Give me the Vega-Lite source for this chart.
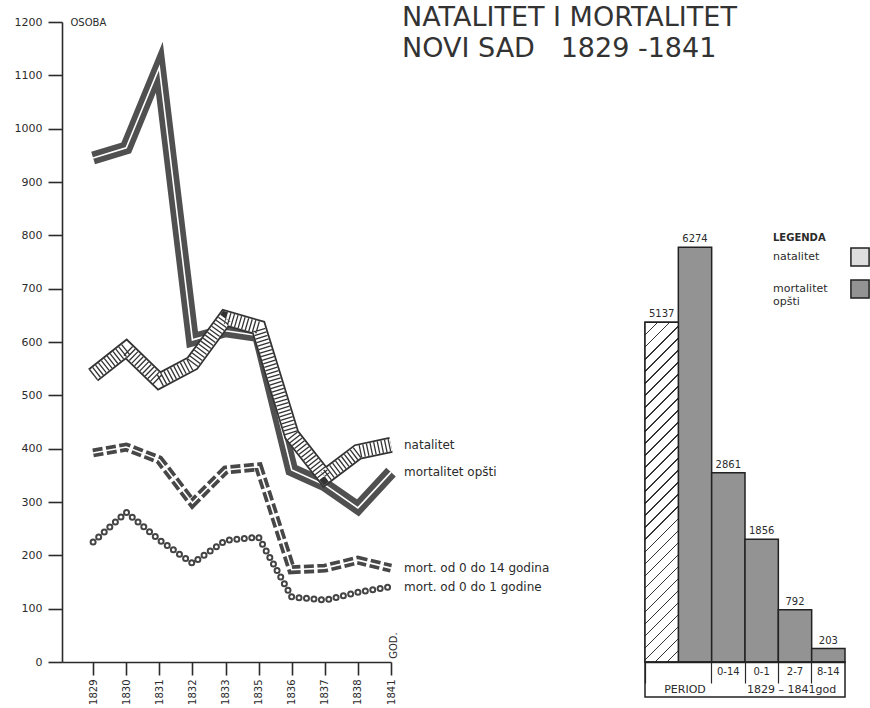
{
  "$schema": "https://vega.github.io/schema/vega-lite/v6.json",
  "width": 808,
  "height": 640,
  "autosize": {"type": "none"},
  "padding": {"left": 62, "top": 22, "right": 0, "bottom": 46},
  "background": "white",
  "config": {
    "view": {"stroke": null},
    "font": "DejaVu Sans",
    "axis": {"labelColor": "#2b2b2b", "domainColor": "#2b2b2b", "tickColor": "#2b2b2b", "titleColor": "#2b2b2b", "labelFont": "DejaVu Sans", "titleFont": "DejaVu Sans", "grid": false, "domainWidth": 1.6, "tickWidth": 1.6},
    "text": {"color": "#2b2b2b", "font": "DejaVu Sans"}
  },
  "title": {
    "text": "NATALITET I MORTALITET",
    "subtitle": "NOVI SAD\u00a0\u00a0\u00a01829 -1841",
    "anchor": "start",
    "frame": "group",
    "dx": 340,
    "dy": 16,
    "offset": -45,
    "baseline": "top",
    "font": "DejaVu Sans",
    "fontSize": 27,
    "fontWeight": "normal",
    "color": "#333333",
    "subtitleFont": "DejaVu Sans",
    "subtitleFontSize": 27,
    "subtitleFontWeight": "normal",
    "subtitleColor": "#333333",
    "subtitlePadding": 4
  },
  "datasets": {
    "lines": [
      {"series": "natalitet", "year": "1829", "value": 538},
      {"series": "natalitet", "year": "1830", "value": 587},
      {"series": "natalitet", "year": "1831", "value": 527},
      {"series": "natalitet", "year": "1832", "value": 560},
      {"series": "natalitet", "year": "1833", "value": 645},
      {"series": "natalitet", "year": "1835", "value": 627},
      {"series": "natalitet", "year": "1836", "value": 426},
      {"series": "natalitet", "year": "1837", "value": 347},
      {"series": "natalitet", "year": "1838", "value": 394},
      {"series": "natalitet", "year": "1841", "value": 407},
      {"series": "mortalitet opšti", "year": "1829", "value": 945},
      {"series": "mortalitet opšti", "year": "1830", "value": 964},
      {"series": "mortalitet opšti", "year": "1831", "value": 1115},
      {"series": "mortalitet opšti", "year": "1832", "value": 604},
      {"series": "mortalitet opšti", "year": "1833", "value": 621},
      {"series": "mortalitet opšti", "year": "1835", "value": 612},
      {"series": "mortalitet opšti", "year": "1836", "value": 360},
      {"series": "mortalitet opšti", "year": "1837", "value": 332},
      {"series": "mortalitet opšti", "year": "1838", "value": 289},
      {"series": "mortalitet opšti", "year": "1841", "value": 356},
      {"series": "mort. od 0 do 14 godina", "year": "1829", "value": 392},
      {"series": "mort. od 0 do 14 godina", "year": "1830", "value": 403},
      {"series": "mort. od 0 do 14 godina", "year": "1831", "value": 379},
      {"series": "mort. od 0 do 14 godina", "year": "1832", "value": 298},
      {"series": "mort. od 0 do 14 godina", "year": "1833", "value": 360},
      {"series": "mort. od 0 do 14 godina", "year": "1835", "value": 366},
      {"series": "mort. od 0 do 14 godina", "year": "1836", "value": 173},
      {"series": "mort. od 0 do 14 godina", "year": "1837", "value": 176},
      {"series": "mort. od 0 do 14 godina", "year": "1838", "value": 191},
      {"series": "mort. od 0 do 14 godina", "year": "1841", "value": 176},
      {"series": "mort. od 0 do 1 godine", "year": "1829", "value": 225},
      {"series": "mort. od 0 do 1 godine", "year": "1830", "value": 281},
      {"series": "mort. od 0 do 1 godine", "year": "1831", "value": 229},
      {"series": "mort. od 0 do 1 godine", "year": "1832", "value": 185},
      {"series": "mort. od 0 do 1 godine", "year": "1833", "value": 228},
      {"series": "mort. od 0 do 1 godine", "year": "1835", "value": 234},
      {"series": "mort. od 0 do 1 godine", "year": "1836", "value": 122},
      {"series": "mort. od 0 do 1 godine", "year": "1837", "value": 116},
      {"series": "mort. od 0 do 1 godine", "year": "1838", "value": 131},
      {"series": "mort. od 0 do 1 godine", "year": "1841", "value": 141}
    ],
    "bars": [
      {"cat": "natalitet", "kind": "natalitet", "value": 5137},
      {"cat": "mortalitet opšti", "kind": "mortalitet opšti", "value": 6274},
      {"cat": "0-14", "kind": "mortalitet opšti", "value": 2861},
      {"cat": "0-1", "kind": "mortalitet opšti", "value": 1856},
      {"cat": "2-7", "kind": "mortalitet opšti", "value": 792},
      {"cat": "8-14", "kind": "mortalitet opšti", "value": 203}
    ]
  },
  "layer": [
    {
      "data": {"name": "lines"},
      "encoding": {
        "x": {
          "field": "year", "type": "ordinal",
          "scale": {"type": "point", "range": [0, 329], "padding": 0.47, "align": 1},
          "axis": {"orient": "bottom", "title": "GOD.", "labelAngle": 270, "tickSize": 13, "labelPadding": 4, "labelFontSize": 10, "titleAngle": 270, "titleX": 331, "titleY": -17, "titleAlign": "center", "titleBaseline": "middle", "titleFontSize": 10, "titleFontWeight": "normal"}
        },
        "y": {
          "field": "value", "type": "quantitative",
          "scale": {"domain": [0, 1200], "nice": false},
          "axis": {"orient": "left", "title": "OSOBA", "format": "d", "values": [0, 100, 200, 300, 400, 500, 600, 700, 800, 900, 1000, 1100, 1200], "tickSize": 14, "labelPadding": 6, "labelFontSize": 11, "titleAngle": 0, "titleX": 8, "titleY": 0, "titleAlign": "left", "titleBaseline": "middle", "titleFontSize": 10, "titleFontWeight": "normal"}
        }
      },
      "layer": [
        {"transform": [{"filter": "datum.series === 'mortalitet opšti'"}], "mark": {"type": "line", "color": "#505050", "strokeWidth": 13, "strokeJoin": "miter", "strokeMiterLimit": 10}},
        {"transform": [{"filter": "datum.series === 'mortalitet opšti'"}], "mark": {"type": "line", "color": "#ffffff", "strokeWidth": 1.6, "strokeJoin": "miter", "strokeMiterLimit": 10}},
        {"transform": [{"filter": "datum.series === 'natalitet'"}], "mark": {"type": "line", "color": "#333333", "strokeWidth": 16, "strokeJoin": "miter", "strokeMiterLimit": 6}},
        {"transform": [{"filter": "datum.series === 'natalitet'"}], "mark": {"type": "line", "color": "#ffffff", "strokeWidth": 12.5, "strokeJoin": "miter", "strokeMiterLimit": 6}},
        {"transform": [{"filter": "datum.series === 'natalitet'"}], "mark": {"type": "line", "color": "#333333", "strokeWidth": 12.5, "strokeDash": [1.3, 2.4], "strokeCap": "butt", "strokeJoin": "miter", "strokeMiterLimit": 6}},
        {"transform": [{"filter": "datum.series === 'mort. od 0 do 14 godina'"}], "mark": {"type": "line", "color": "#474747", "strokeWidth": 9, "strokeDash": [10, 3.5], "strokeCap": "butt", "strokeJoin": "miter"}},
        {"transform": [{"filter": "datum.series === 'mort. od 0 do 14 godina'"}], "mark": {"type": "line", "color": "#ffffff", "strokeWidth": 1.6, "strokeJoin": "miter"}},
        {"transform": [{"filter": "datum.series === 'mort. od 0 do 1 godine'"}], "mark": {"type": "line", "color": "#444444", "strokeWidth": 7, "strokeDash": [0, 7.5], "strokeCap": "round", "strokeJoin": "round"}},
        {"transform": [{"filter": "datum.series === 'mort. od 0 do 1 godine'"}], "mark": {"type": "line", "color": "#ffffff", "strokeWidth": 3, "strokeDash": [0, 7.5], "strokeCap": "round", "strokeJoin": "round"}},
        {"transform": [{"filter": "datum.year === '1841'"}], "mark": {"type": "text", "align": "left", "baseline": "middle", "dx": 13, "fontSize": 12}, "encoding": {"text": {"field": "series"}}}
      ]
    },
    {
      "data": {"name": "bars"},
      "encoding": {
        "x": {
          "field": "cat", "type": "nominal",
          "scale": {"type": "band", "domain": ["natalitet", "mortalitet opšti", "0-14", "0-1", "2-7", "8-14"], "range": [583, 783], "paddingInner": 0, "paddingOuter": 0},
          "axis": {"orient": "bottom", "title": null, "bandPosition": 0, "tickSize": 21, "tickWidth": 1.2, "labelOffset": 0, "labelPadding": -17, "labelBaseline": "top", "labelAngle": 0, "labelAlign": "center", "labelFontSize": 10, "labelOverlap": false,
                   "labelExpr": "indexof(['0-14','0-1','2-7','8-14'], datum.value) >= 0 ? datum.value : ''",
                   "tickColor": {"condition": {"test": "datum.value === 'mortalitet opšti'", "value": "transparent"}, "value": "#2b2b2b"}}
        },
        "y": {"field": "value", "type": "quantitative", "scale": {"domain": [0, 9680], "nice": false}, "axis": null}
      },
      "layer": [
        {
          "mark": {"type": "bar", "stroke": "#222222", "strokeWidth": 1.5},
          "encoding": {
            "color": {
              "field": "kind", "type": "nominal",
              "scale": {"domain": ["natalitet", "mortalitet opšti"], "range": ["#dedede", "#939393"]},
              "legend": {"title": "LEGENDA", "orient": "none", "legendX": 711, "legendY": 211, "symbolType": "square", "symbolSize": 330, "symbolStrokeColor": "#222222", "symbolStrokeWidth": 1.5, "symbolOffset": 77, "labelOffset": -97, "labelFontSize": 11, "labelColor": "#2b2b2b", "titleFontSize": 10, "titleFontWeight": "bold", "titleColor": "#2b2b2b", "rowPadding": 6, "titlePadding": 4, "padding": 0,
                         "labelExpr": "datum.label === 'mortalitet opšti' ? ['mortalitet', 'opšti'] : datum.label"}
            }
          }
        },
        {
          "transform": [{"filter": "datum.cat === 'natalitet'"}],
          "mark": {"type": "bar", "stroke": "#222222", "strokeWidth": 1.5,
            "fill": {"gradient": "linear", "x1": 0, "y1": 0, "x2": 0.1068, "y2": 1.088, "stops": [
              {"offset": 0, "color": "#333333"}, {"offset": 0.0042, "color": "#333333"}, {"offset": 0.0042, "color": "#ffffff"}, {"offset": 0.0323, "color": "#ffffff"},
              {"offset": 0.0323, "color": "#333333"}, {"offset": 0.0365, "color": "#333333"}, {"offset": 0.0365, "color": "#ffffff"}, {"offset": 0.0645, "color": "#ffffff"},
              {"offset": 0.0645, "color": "#333333"}, {"offset": 0.0687, "color": "#333333"}, {"offset": 0.0687, "color": "#ffffff"}, {"offset": 0.0968, "color": "#ffffff"},
              {"offset": 0.0968, "color": "#333333"}, {"offset": 0.1010, "color": "#333333"}, {"offset": 0.1010, "color": "#ffffff"}, {"offset": 0.1290, "color": "#ffffff"},
              {"offset": 0.1290, "color": "#333333"}, {"offset": 0.1332, "color": "#333333"}, {"offset": 0.1332, "color": "#ffffff"}, {"offset": 0.1613, "color": "#ffffff"},
              {"offset": 0.1613, "color": "#333333"}, {"offset": 0.1655, "color": "#333333"}, {"offset": 0.1655, "color": "#ffffff"}, {"offset": 0.1935, "color": "#ffffff"},
              {"offset": 0.1935, "color": "#333333"}, {"offset": 0.1977, "color": "#333333"}, {"offset": 0.1977, "color": "#ffffff"}, {"offset": 0.2258, "color": "#ffffff"},
              {"offset": 0.2258, "color": "#333333"}, {"offset": 0.2300, "color": "#333333"}, {"offset": 0.2300, "color": "#ffffff"}, {"offset": 0.2581, "color": "#ffffff"},
              {"offset": 0.2581, "color": "#333333"}, {"offset": 0.2623, "color": "#333333"}, {"offset": 0.2623, "color": "#ffffff"}, {"offset": 0.2903, "color": "#ffffff"},
              {"offset": 0.2903, "color": "#333333"}, {"offset": 0.2945, "color": "#333333"}, {"offset": 0.2945, "color": "#ffffff"}, {"offset": 0.3226, "color": "#ffffff"},
              {"offset": 0.3226, "color": "#333333"}, {"offset": 0.3268, "color": "#333333"}, {"offset": 0.3268, "color": "#ffffff"}, {"offset": 0.3548, "color": "#ffffff"},
              {"offset": 0.3548, "color": "#333333"}, {"offset": 0.3590, "color": "#333333"}, {"offset": 0.3590, "color": "#ffffff"}, {"offset": 0.3871, "color": "#ffffff"},
              {"offset": 0.3871, "color": "#333333"}, {"offset": 0.3913, "color": "#333333"}, {"offset": 0.3913, "color": "#ffffff"}, {"offset": 0.4194, "color": "#ffffff"},
              {"offset": 0.4194, "color": "#333333"}, {"offset": 0.4236, "color": "#333333"}, {"offset": 0.4236, "color": "#ffffff"}, {"offset": 0.4516, "color": "#ffffff"},
              {"offset": 0.4516, "color": "#333333"}, {"offset": 0.4558, "color": "#333333"}, {"offset": 0.4558, "color": "#ffffff"}, {"offset": 0.4839, "color": "#ffffff"},
              {"offset": 0.4839, "color": "#333333"}, {"offset": 0.4881, "color": "#333333"}, {"offset": 0.4881, "color": "#ffffff"}, {"offset": 0.5161, "color": "#ffffff"},
              {"offset": 0.5161, "color": "#333333"}, {"offset": 0.5203, "color": "#333333"}, {"offset": 0.5203, "color": "#ffffff"}, {"offset": 0.5484, "color": "#ffffff"},
              {"offset": 0.5484, "color": "#333333"}, {"offset": 0.5526, "color": "#333333"}, {"offset": 0.5526, "color": "#ffffff"}, {"offset": 0.5806, "color": "#ffffff"},
              {"offset": 0.5806, "color": "#333333"}, {"offset": 0.5848, "color": "#333333"}, {"offset": 0.5848, "color": "#ffffff"}, {"offset": 0.6129, "color": "#ffffff"},
              {"offset": 0.6129, "color": "#333333"}, {"offset": 0.6171, "color": "#333333"}, {"offset": 0.6171, "color": "#ffffff"}, {"offset": 0.6452, "color": "#ffffff"},
              {"offset": 0.6452, "color": "#333333"}, {"offset": 0.6494, "color": "#333333"}, {"offset": 0.6494, "color": "#ffffff"}, {"offset": 0.6774, "color": "#ffffff"},
              {"offset": 0.6774, "color": "#333333"}, {"offset": 0.6816, "color": "#333333"}, {"offset": 0.6816, "color": "#ffffff"}, {"offset": 0.7097, "color": "#ffffff"},
              {"offset": 0.7097, "color": "#333333"}, {"offset": 0.7139, "color": "#333333"}, {"offset": 0.7139, "color": "#ffffff"}, {"offset": 0.7419, "color": "#ffffff"},
              {"offset": 0.7419, "color": "#333333"}, {"offset": 0.7461, "color": "#333333"}, {"offset": 0.7461, "color": "#ffffff"}, {"offset": 0.7742, "color": "#ffffff"},
              {"offset": 0.7742, "color": "#333333"}, {"offset": 0.7784, "color": "#333333"}, {"offset": 0.7784, "color": "#ffffff"}, {"offset": 0.8065, "color": "#ffffff"},
              {"offset": 0.8065, "color": "#333333"}, {"offset": 0.8107, "color": "#333333"}, {"offset": 0.8107, "color": "#ffffff"}, {"offset": 0.8387, "color": "#ffffff"},
              {"offset": 0.8387, "color": "#333333"}, {"offset": 0.8429, "color": "#333333"}, {"offset": 0.8429, "color": "#ffffff"}, {"offset": 0.8710, "color": "#ffffff"},
              {"offset": 0.8710, "color": "#333333"}, {"offset": 0.8752, "color": "#333333"}, {"offset": 0.8752, "color": "#ffffff"}, {"offset": 0.9032, "color": "#ffffff"},
              {"offset": 0.9032, "color": "#333333"}, {"offset": 0.9074, "color": "#333333"}, {"offset": 0.9074, "color": "#ffffff"}, {"offset": 0.9355, "color": "#ffffff"},
              {"offset": 0.9355, "color": "#333333"}, {"offset": 0.9397, "color": "#333333"}, {"offset": 0.9397, "color": "#ffffff"}, {"offset": 0.9677, "color": "#ffffff"},
              {"offset": 0.9677, "color": "#333333"}, {"offset": 0.9719, "color": "#333333"}, {"offset": 0.9719, "color": "#ffffff"}, {"offset": 1, "color": "#ffffff"}
            ]}
          }
        },
        {
          "mark": {"type": "text", "dy": -8, "fontSize": 10},
          "encoding": {"text": {"field": "value", "type": "quantitative", "format": "d"}}
        },
        {
          "transform": [{"filter": "datum.cat === 'natalitet'"}],
          "mark": {"type": "rect", "fillOpacity": 0, "stroke": "#222222", "strokeWidth": 1.5},
          "encoding": {
            "x": {"datum": "natalitet", "bandPosition": 0},
            "x2": {"datum": "8-14", "bandPosition": 1},
            "y": {"datum": 0},
            "y2": {"datum": -529}
          }
        },
        {
          "transform": [{"filter": "datum.cat === 'natalitet'"}],
          "mark": {"type": "text", "text": "PERIOD", "fontSize": 11, "align": "center", "baseline": "middle"},
          "encoding": {"x": {"datum": "mortalitet opšti", "bandPosition": 0.2}, "y": {"datum": -430}}
        },
        {
          "transform": [{"filter": "datum.cat === 'natalitet'"}],
          "mark": {"type": "text", "text": "1829 – 1841god", "fontSize": 11, "align": "center", "baseline": "middle"},
          "encoding": {"x": {"datum": "2-7", "bandPosition": 0.4}, "y": {"datum": -430}}
        }
      ]
    }
  ],
  "resolve": {"scale": {"x": "independent", "y": "independent"}, "axis": {"x": "independent", "y": "independent"}}
}
